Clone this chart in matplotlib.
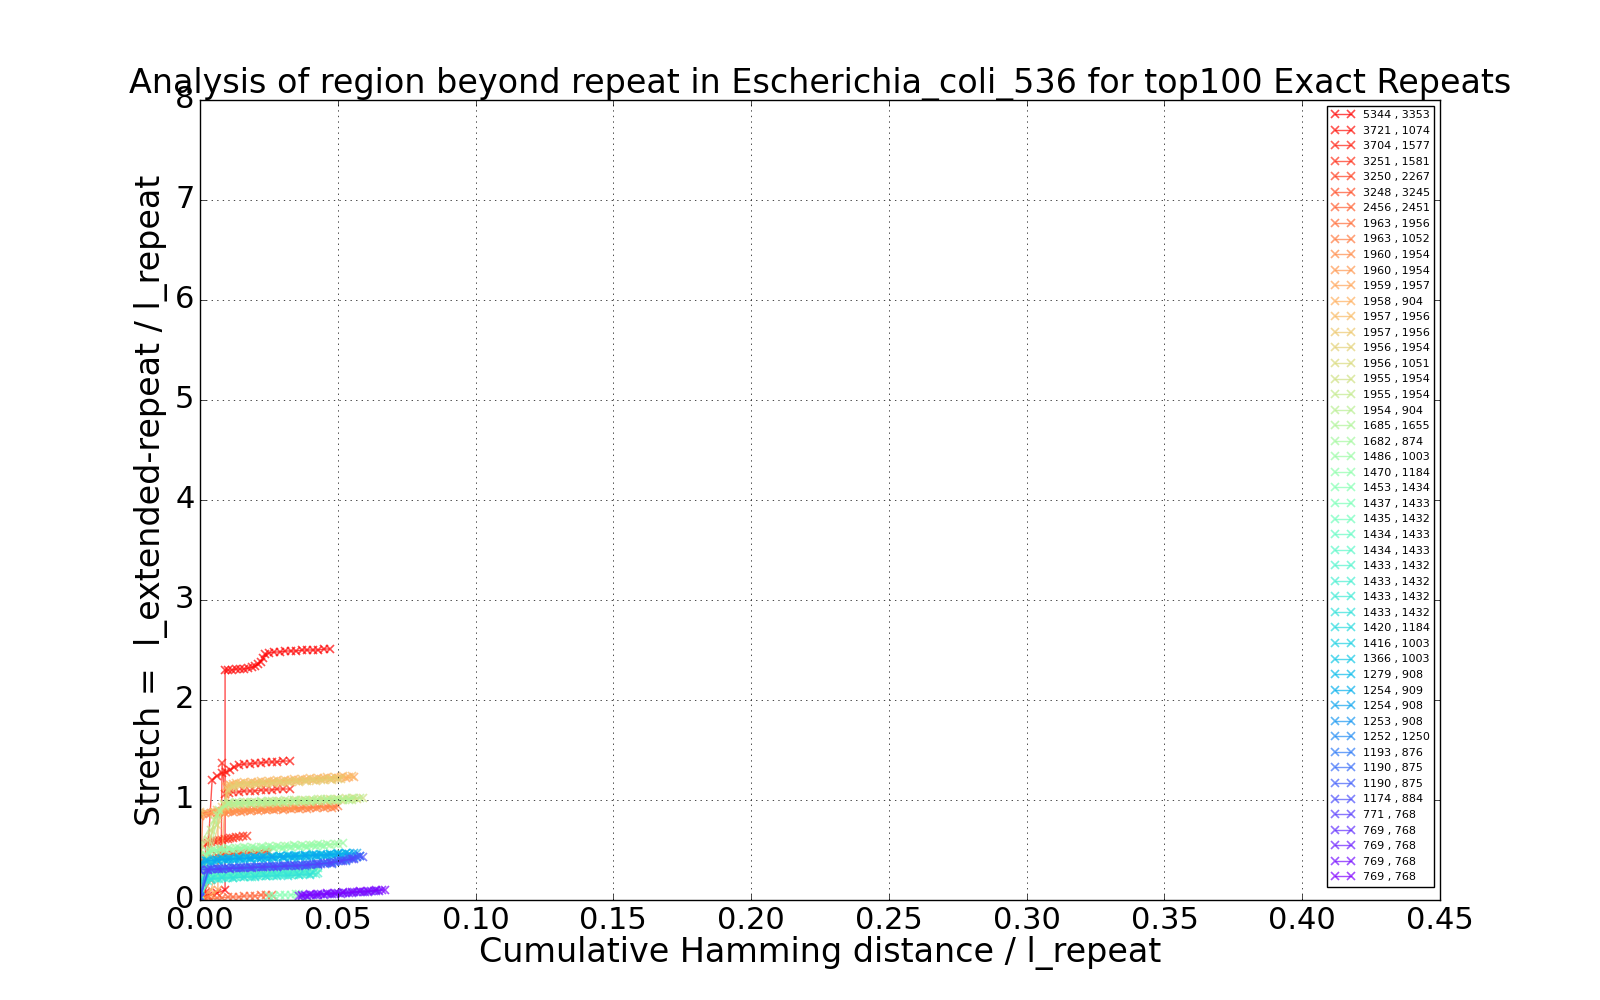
import numpy as np
import matplotlib
matplotlib.use("Agg")
import matplotlib.pyplot as plt

plt.style.use("classic")

# repeat length , copy length for the top exact repeats
labels = [
    "5344 , 3353", "3721 , 1074", "3704 , 1577", "3251 , 1581", "3250 , 2267",
    "3248 , 3245", "2456 , 2451", "1963 , 1956", "1963 , 1052", "1960 , 1954",
    "1960 , 1954", "1959 , 1957", "1958 , 904", "1957 , 1956", "1957 , 1956",
    "1956 , 1954", "1956 , 1051", "1955 , 1954", "1955 , 1954", "1954 , 904",
    "1685 , 1655", "1682 , 874", "1486 , 1003", "1470 , 1184", "1453 , 1434",
    "1437 , 1433", "1435 , 1432", "1434 , 1433", "1434 , 1433", "1433 , 1432",
    "1433 , 1432", "1433 , 1432", "1433 , 1432", "1420 , 1184", "1416 , 1003",
    "1366 , 1003", "1279 , 908", "1254 , 909", "1254 , 908", "1253 , 908",
    "1252 , 1250", "1193 , 876", "1190 , 875", "1190 , 875", "1174 , 884",
    "771 , 768", "769 , 768", "769 , 768", "769 , 768", "769 , 768",
]

# cumulative hamming distance / l_repeat, one list per repeat
hamming = [
    [0.000, 0.003, 0.006, 0.0091, 0.0091, 0.010, 0.0115, 0.013, 0.0145, 0.016, 0.0175, 0.019, 0.020, 0.021, 0.022, 0.023, 0.0236, 0.025, 0.027, 0.029, 0.031, 0.033, 0.035, 0.037, 0.039, 0.041, 0.043, 0.045, 0.047],
    [0.000, 0.002, 0.0044, 0.006, 0.008, 0.0095, 0.011, 0.0125, 0.014, 0.016, 0.018, 0.020, 0.022, 0.024, 0.026, 0.028, 0.030, 0.0325],
    [0.000, 0.004, 0.0077, 0.008, 0.009, 0.0105, 0.012, 0.014, 0.016, 0.018, 0.020, 0.022, 0.024, 0.026, 0.028, 0.030, 0.0325],
    [0.000, 0.002, 0.002, 0.003, 0.004, 0.005, 0.006, 0.007, 0.008, 0.009, 0.010, 0.011, 0.012, 0.013, 0.014, 0.0155, 0.017],
    [0.000, 0.002, 0.004, 0.006, 0.008, 0.010, 0.012, 0.014, 0.016, 0.018, 0.020, 0.022, 0.024, 0.025],
    [0.000, 0.003, 0.006, 0.009, 0.012, 0.015, 0.018, 0.021, 0.024],
    [0.000, 0.002, 0.004, 0.006, 0.008, 0.010, 0.012, 0.014, 0.016, 0.018, 0.020, 0.022, 0.024, 0.026],
    [0.000, 0.001, 0.004, 0.007, 0.010, 0.013, 0.016, 0.019, 0.022, 0.025, 0.028, 0.031, 0.034, 0.037, 0.040, 0.043, 0.046, 0.049],
    [0.000, 0.002, 0.005, 0.008, 0.011, 0.014, 0.017, 0.020, 0.023, 0.026, 0.029, 0.032, 0.035, 0.038, 0.041, 0.044, 0.047, 0.050],
    [0.000, 0.003, 0.006, 0.009, 0.012, 0.015, 0.018, 0.021, 0.024, 0.027, 0.030, 0.033, 0.036, 0.039, 0.042, 0.045, 0.048],
    [0.000, 0.004, 0.0065, 0.0065, 0.008, 0.010, 0.013, 0.016, 0.019, 0.022, 0.025, 0.028, 0.031, 0.034],
    [0.000, 0.004, 0.008, 0.0095, 0.011, 0.014, 0.017, 0.020, 0.023, 0.026, 0.029, 0.032, 0.035, 0.038, 0.041, 0.044, 0.047, 0.050, 0.053, 0.056],
    [0.000, 0.005, 0.0095, 0.010, 0.012, 0.015, 0.018, 0.021, 0.024, 0.027, 0.030, 0.033, 0.036, 0.039, 0.042, 0.045, 0.048, 0.051, 0.054],
    [0.000, 0.006, 0.010, 0.011, 0.013, 0.016, 0.019, 0.022, 0.025, 0.028, 0.031, 0.034, 0.037, 0.040, 0.043, 0.046, 0.049, 0.052, 0.055],
    [0.000, 0.008, 0.011, 0.012, 0.015, 0.018, 0.021, 0.024, 0.027, 0.030, 0.033, 0.036, 0.039, 0.042, 0.045, 0.048, 0.051],
    [0.000, 0.010, 0.012, 0.014, 0.017, 0.020, 0.023, 0.026, 0.029, 0.032, 0.035, 0.038, 0.041, 0.044, 0.047, 0.050],
    [0.000, 0.003, 0.006, 0.009, 0.012, 0.015, 0.018, 0.021, 0.024, 0.027, 0.030, 0.033, 0.036, 0.039, 0.042, 0.045, 0.048, 0.051, 0.054, 0.057],
    [0.000, 0.004, 0.0088, 0.011, 0.014, 0.017, 0.020, 0.023, 0.026, 0.029, 0.032, 0.035, 0.038, 0.041, 0.044, 0.047, 0.050, 0.053, 0.056, 0.059],
    [0.000, 0.005, 0.009, 0.013, 0.016, 0.019, 0.022, 0.025, 0.028, 0.031, 0.034, 0.037, 0.040, 0.043, 0.046, 0.049, 0.052, 0.055],
    [0.000, 0.006, 0.010, 0.013, 0.016, 0.019, 0.022, 0.025, 0.028, 0.031, 0.034, 0.037, 0.040, 0.043, 0.046, 0.049, 0.052, 0.055, 0.058],
    [0.000, 0.007, 0.010, 0.014, 0.018, 0.022, 0.026, 0.030, 0.034, 0.038, 0.042, 0.046, 0.050, 0.054],
    [0.000, 0.002, 0.005, 0.008, 0.011, 0.014, 0.017, 0.020, 0.023, 0.026, 0.029, 0.032, 0.035, 0.038, 0.041, 0.044, 0.047, 0.050],
    [0.000, 0.004, 0.007, 0.010, 0.013, 0.016, 0.019, 0.022, 0.025, 0.028, 0.031, 0.034, 0.037, 0.040, 0.043, 0.046, 0.049, 0.052],
    [0.000, 0.003, 0.006, 0.009, 0.012, 0.015, 0.018, 0.021, 0.024, 0.027, 0.030, 0.033, 0.036, 0.039, 0.042, 0.045],
    [0.025, 0.027, 0.029, 0.031, 0.033, 0.035, 0.036],
    [0.000, 0.003, 0.006, 0.009, 0.012, 0.015, 0.018, 0.021, 0.024, 0.027, 0.030, 0.033, 0.036, 0.039, 0.042],
    [0.000, 0.004, 0.007, 0.010, 0.013, 0.016, 0.019, 0.022, 0.025, 0.028, 0.031, 0.034, 0.037, 0.040, 0.043],
    [0.000, 0.005, 0.008, 0.011, 0.014, 0.017, 0.020, 0.023, 0.026, 0.029, 0.032, 0.035, 0.038, 0.041],
    [0.000, 0.002, 0.005, 0.008, 0.011, 0.014, 0.017, 0.020, 0.023, 0.026, 0.029, 0.032, 0.035, 0.038],
    [0.000, 0.003, 0.006, 0.009, 0.012, 0.015, 0.018, 0.021, 0.024, 0.027, 0.030, 0.033, 0.036, 0.039, 0.042],
    [0.000, 0.004, 0.007, 0.010, 0.013, 0.016, 0.019, 0.022, 0.025, 0.028, 0.031, 0.034, 0.037, 0.040, 0.043],
    [0.000, 0.002, 0.005, 0.008, 0.011, 0.014, 0.017, 0.020, 0.023, 0.026, 0.029, 0.032, 0.035, 0.038, 0.041],
    [0.000, 0.004, 0.008, 0.012, 0.016, 0.020, 0.024, 0.028, 0.032, 0.036, 0.040],
    [0.000, 0.003, 0.006, 0.009, 0.012, 0.015, 0.018, 0.021, 0.024, 0.027, 0.030, 0.033, 0.036, 0.039, 0.042, 0.045, 0.048, 0.051],
    [0.000, 0.002, 0.005, 0.008, 0.011, 0.014, 0.017, 0.020, 0.023, 0.026, 0.029, 0.032, 0.035, 0.038, 0.041, 0.044, 0.047, 0.050, 0.053],
    [0.000, 0.004, 0.007, 0.010, 0.013, 0.016, 0.019, 0.022, 0.025, 0.028, 0.031, 0.034, 0.037, 0.040, 0.043, 0.046, 0.049],
    [0.000, 0.003, 0.006, 0.009, 0.012, 0.015, 0.018, 0.021, 0.024, 0.027, 0.030, 0.033, 0.036, 0.039, 0.042, 0.045, 0.048, 0.051, 0.054],
    [0.000, 0.005, 0.008, 0.011, 0.014, 0.017, 0.020, 0.023, 0.026, 0.029, 0.032, 0.035, 0.038, 0.041, 0.044, 0.047, 0.050, 0.053, 0.056],
    [0.000, 0.002, 0.006, 0.010, 0.014, 0.018, 0.022, 0.026, 0.030, 0.034, 0.038, 0.042, 0.046, 0.050, 0.054, 0.057],
    [0.000, 0.003, 0.006, 0.009, 0.012, 0.015, 0.018, 0.021, 0.024, 0.027, 0.030, 0.033, 0.036, 0.039, 0.042, 0.045, 0.048, 0.051, 0.054, 0.057],
    [0.000, 0.004, 0.007, 0.010, 0.013, 0.016, 0.019, 0.022, 0.025, 0.028, 0.031, 0.034, 0.037, 0.040, 0.043, 0.046, 0.049, 0.052, 0.055, 0.058],
    [0.000, 0.003, 0.008, 0.013, 0.018, 0.023, 0.028, 0.033, 0.038, 0.043, 0.048, 0.053, 0.056],
    [0.000, 0.005, 0.009, 0.013, 0.017, 0.021, 0.025, 0.029, 0.033, 0.037, 0.041, 0.045, 0.049, 0.053, 0.057],
    [0.000, 0.002, 0.006, 0.010, 0.014, 0.018, 0.022, 0.026, 0.030, 0.034, 0.038, 0.042, 0.046, 0.050, 0.054, 0.058],
    [0.000, 0.004, 0.008, 0.012, 0.016, 0.020, 0.024, 0.028, 0.032, 0.036, 0.040, 0.044, 0.048, 0.052, 0.056, 0.059],
    [0.000, 0.003, 0.007, 0.011, 0.015, 0.019, 0.023, 0.027, 0.031, 0.035, 0.039, 0.043, 0.047, 0.051, 0.055],
    [0.037, 0.040, 0.043, 0.046, 0.049, 0.052, 0.055, 0.058, 0.061, 0.064],
    [0.038, 0.041, 0.044, 0.047, 0.050, 0.053, 0.056, 0.059, 0.062, 0.065],
    [0.036, 0.039, 0.042, 0.045, 0.048, 0.051, 0.054, 0.057, 0.060, 0.063, 0.066],
    [0.037, 0.040, 0.043, 0.046, 0.049, 0.052, 0.055, 0.058, 0.061, 0.064, 0.067],
]

# stretch = l_extended-repeat / l_repeat, matching the lists above
stretch = [
    [0.02, 0.04, 0.07, 0.10, 2.30, 2.30, 2.30, 2.31, 2.31, 2.31, 2.32, 2.33, 2.34, 2.36, 2.38, 2.42, 2.46, 2.47, 2.48, 2.48, 2.49, 2.49, 2.49, 2.50, 2.50, 2.50, 2.50, 2.51, 2.51],
    [0.03, 0.08, 1.20, 1.24, 1.27, 1.28, 1.30, 1.33, 1.35, 1.36, 1.36, 1.37, 1.37, 1.38, 1.38, 1.38, 1.39, 1.39],
    [0.02, 0.20, 0.45, 1.37, 1.06, 1.07, 1.08, 1.08, 1.09, 1.09, 1.09, 1.10, 1.10, 1.10, 1.11, 1.11, 1.11],
    [0.01, 0.05, 0.56, 0.57, 0.58, 0.59, 0.59, 0.60, 0.60, 0.61, 0.61, 0.62, 0.62, 0.63, 0.63, 0.64, 0.64],
    [0.38, 0.42, 0.43, 0.44, 0.45, 0.45, 0.46, 0.46, 0.47, 0.47, 0.47, 0.48, 0.48, 0.48],
    [0.02, 0.40, 0.44, 0.45, 0.46, 0.47, 0.48, 0.49, 0.50],
    [0.00, 0.01, 0.01, 0.02, 0.02, 0.03, 0.03, 0.03, 0.04, 0.04, 0.04, 0.05, 0.05, 0.05],
    [0.02, 0.86, 0.87, 0.88, 0.88, 0.89, 0.89, 0.90, 0.90, 0.91, 0.91, 0.91, 0.92, 0.92, 0.92, 0.93, 0.93, 0.93],
    [0.84, 0.87, 0.88, 0.89, 0.89, 0.90, 0.90, 0.91, 0.91, 0.91, 0.92, 0.92, 0.92, 0.93, 0.93, 0.94, 0.94, 0.94],
    [0.85, 0.86, 0.87, 0.87, 0.88, 0.88, 0.89, 0.89, 0.90, 0.90, 0.90, 0.91, 0.91, 0.91, 0.92, 0.92, 0.92],
    [0.01, 0.05, 0.10, 0.85, 0.88, 0.89, 0.89, 0.90, 0.90, 0.91, 0.91, 0.92, 0.92, 0.92],
    [0.02, 0.10, 0.50, 1.13, 1.15, 1.16, 1.16, 1.17, 1.17, 1.18, 1.18, 1.19, 1.19, 1.20, 1.20, 1.21, 1.21, 1.22, 1.22, 1.23],
    [0.85, 0.88, 0.92, 1.14, 1.16, 1.17, 1.17, 1.18, 1.18, 1.19, 1.19, 1.20, 1.20, 1.21, 1.21, 1.22, 1.22, 1.23, 1.23],
    [0.05, 0.90, 0.95, 1.15, 1.17, 1.18, 1.18, 1.19, 1.19, 1.20, 1.20, 1.21, 1.21, 1.22, 1.22, 1.23, 1.23, 1.24, 1.24],
    [0.88, 0.93, 1.12, 1.14, 1.15, 1.15, 1.16, 1.16, 1.17, 1.17, 1.18, 1.18, 1.19, 1.19, 1.20, 1.20, 1.21],
    [0.06, 1.10, 1.13, 1.15, 1.16, 1.16, 1.17, 1.17, 1.18, 1.18, 1.19, 1.19, 1.20, 1.20, 1.21, 1.21],
    [0.02, 0.60, 0.75, 0.95, 0.96, 0.96, 0.97, 0.97, 0.97, 0.98, 0.98, 0.98, 0.99, 0.99, 0.99, 1.00, 1.00, 1.00, 1.01, 1.01],
    [0.50, 0.70, 0.96, 0.97, 0.97, 0.98, 0.98, 0.98, 0.99, 0.99, 0.99, 1.00, 1.00, 1.00, 1.01, 1.01, 1.01, 1.02, 1.02, 1.02],
    [0.04, 0.80, 0.94, 0.95, 0.96, 0.96, 0.96, 0.97, 0.97, 0.97, 0.98, 0.98, 0.98, 0.99, 0.99, 0.99, 1.00, 1.00],
    [0.55, 0.85, 0.97, 0.98, 0.98, 0.98, 0.99, 0.99, 0.99, 1.00, 1.00, 1.00, 1.00, 1.01, 1.01, 1.01, 1.01, 1.02, 1.02],
    [0.05, 0.90, 0.96, 0.97, 0.97, 0.98, 0.98, 0.98, 0.99, 0.99, 0.99, 1.00, 1.00, 1.00],
    [0.03, 0.45, 0.50, 0.51, 0.51, 0.52, 0.52, 0.52, 0.53, 0.53, 0.53, 0.54, 0.54, 0.54, 0.55, 0.55, 0.55, 0.56],
    [0.45, 0.49, 0.51, 0.52, 0.52, 0.53, 0.53, 0.53, 0.54, 0.54, 0.54, 0.55, 0.55, 0.55, 0.56, 0.56, 0.56, 0.57],
    [0.02, 0.48, 0.49, 0.50, 0.50, 0.51, 0.51, 0.51, 0.52, 0.52, 0.52, 0.53, 0.53, 0.53, 0.54, 0.54],
    [0.04, 0.04, 0.05, 0.05, 0.05, 0.06, 0.06],
    [0.02, 0.24, 0.26, 0.27, 0.27, 0.28, 0.28, 0.29, 0.29, 0.29, 0.30, 0.30, 0.31, 0.31, 0.32],
    [0.22, 0.25, 0.27, 0.28, 0.28, 0.29, 0.29, 0.29, 0.30, 0.30, 0.30, 0.31, 0.31, 0.32, 0.32],
    [0.03, 0.26, 0.27, 0.28, 0.29, 0.29, 0.30, 0.30, 0.30, 0.31, 0.31, 0.31, 0.32, 0.33],
    [0.20, 0.23, 0.25, 0.26, 0.26, 0.27, 0.27, 0.27, 0.28, 0.28, 0.28, 0.29, 0.29, 0.30],
    [0.02, 0.19, 0.21, 0.22, 0.22, 0.23, 0.23, 0.24, 0.24, 0.24, 0.25, 0.25, 0.25, 0.26, 0.26],
    [0.18, 0.20, 0.21, 0.22, 0.23, 0.23, 0.23, 0.24, 0.24, 0.25, 0.25, 0.25, 0.26, 0.26, 0.27],
    [0.03, 0.20, 0.22, 0.23, 0.23, 0.24, 0.24, 0.24, 0.25, 0.25, 0.25, 0.26, 0.26, 0.26, 0.27],
    [0.19, 0.21, 0.22, 0.22, 0.23, 0.23, 0.24, 0.24, 0.24, 0.25, 0.25],
    [0.03, 0.39, 0.40, 0.41, 0.41, 0.42, 0.42, 0.42, 0.43, 0.43, 0.43, 0.44, 0.44, 0.44, 0.45, 0.45, 0.45, 0.46],
    [0.37, 0.40, 0.41, 0.42, 0.42, 0.43, 0.43, 0.43, 0.44, 0.44, 0.44, 0.45, 0.45, 0.45, 0.46, 0.46, 0.46, 0.47, 0.47],
    [0.02, 0.38, 0.40, 0.40, 0.41, 0.41, 0.42, 0.42, 0.42, 0.43, 0.43, 0.43, 0.44, 0.44, 0.44, 0.45, 0.45],
    [0.35, 0.39, 0.40, 0.40, 0.41, 0.41, 0.41, 0.42, 0.42, 0.42, 0.43, 0.43, 0.43, 0.44, 0.44, 0.44, 0.45, 0.45, 0.46],
    [0.04, 0.39, 0.41, 0.41, 0.42, 0.42, 0.43, 0.43, 0.43, 0.44, 0.44, 0.44, 0.45, 0.45, 0.45, 0.46, 0.46, 0.47, 0.47],
    [0.36, 0.39, 0.40, 0.41, 0.41, 0.42, 0.42, 0.43, 0.43, 0.44, 0.44, 0.45, 0.45, 0.46, 0.46, 0.47],
    [0.03, 0.31, 0.32, 0.32, 0.33, 0.33, 0.33, 0.34, 0.34, 0.34, 0.35, 0.35, 0.35, 0.36, 0.36, 0.37, 0.38, 0.40, 0.42, 0.43],
    [0.30, 0.31, 0.31, 0.32, 0.32, 0.33, 0.33, 0.33, 0.34, 0.34, 0.35, 0.35, 0.35, 0.36, 0.36, 0.37, 0.38, 0.40, 0.42, 0.44],
    [0.02, 0.30, 0.31, 0.32, 0.32, 0.33, 0.33, 0.34, 0.34, 0.35, 0.36, 0.39, 0.42],
    [0.30, 0.31, 0.32, 0.32, 0.33, 0.33, 0.34, 0.34, 0.35, 0.35, 0.36, 0.37, 0.38, 0.40, 0.43],
    [0.03, 0.30, 0.31, 0.32, 0.32, 0.33, 0.33, 0.34, 0.34, 0.35, 0.35, 0.36, 0.37, 0.39, 0.41, 0.44],
    [0.30, 0.31, 0.31, 0.32, 0.32, 0.33, 0.33, 0.33, 0.34, 0.34, 0.35, 0.36, 0.37, 0.39, 0.41, 0.43],
    [0.02, 0.30, 0.31, 0.31, 0.32, 0.32, 0.33, 0.33, 0.34, 0.34, 0.35, 0.36, 0.37, 0.39, 0.41],
    [0.04, 0.05, 0.05, 0.06, 0.06, 0.07, 0.07, 0.08, 0.08, 0.09],
    [0.05, 0.05, 0.06, 0.06, 0.07, 0.07, 0.08, 0.08, 0.09, 0.09],
    [0.04, 0.04, 0.05, 0.05, 0.06, 0.06, 0.07, 0.08, 0.08, 0.09, 0.10],
    [0.05, 0.06, 0.06, 0.07, 0.07, 0.08, 0.08, 0.09, 0.09, 0.10, 0.10],
]

colours = plt.cm.rainbow(np.linspace(1, 0, len(labels)))

fig, ax = plt.subplots(figsize=(16, 10), dpi=100)
for x, y, lab, col in zip(hamming, stretch, labels, colours):
    ax.plot(x, y, marker="x", markeredgewidth=1.2, color=col, alpha=0.7, label=lab)

ax.set_xlim(0, 0.45)
ax.set_ylim(0, 8)
ax.grid(True)
ax.tick_params(labelsize=22)
ax.set_title("Analysis of region beyond repeat in Escherichia_coli_536 for top100 Exact Repeats", fontsize=24)
ax.set_xlabel("Cumulative Hamming distance / l_repeat", fontsize=24, labelpad=1)
ax.set_ylabel("Stretch =  l_extended-repeat / l_repeat", fontsize=24)
ax.legend(loc="upper right", fontsize=8, labelspacing=0.5)
fig.savefig("out.png", dpi=100)
